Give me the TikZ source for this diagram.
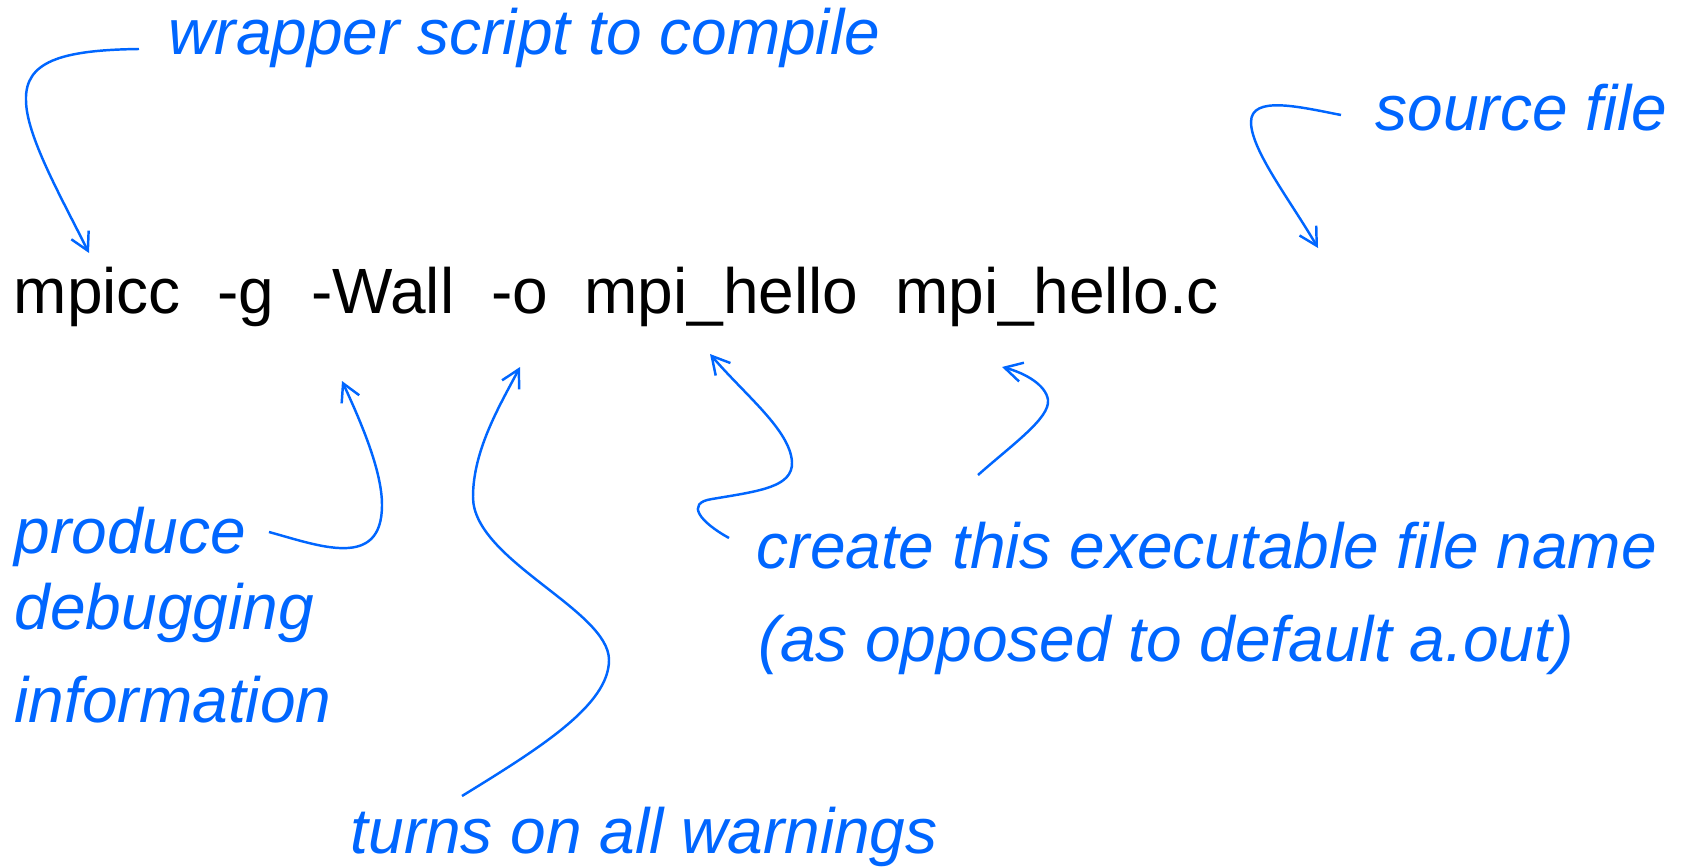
\documentclass[tikz,border=0pt]{standalone}
\usepackage{fontspec}
\setmainfont{Liberation Sans}
\usetikzlibrary{arrows.meta,positioning}
\definecolor{noteblue}{RGB}{0,102,255}

\begin{document}
\begin{tikzpicture}[x=0.01cm, y=-0.01cm, node distance=0.352cm,
    cmd/.style={inner sep=0, font=\fontsize{18.2}{22}\selectfont},
    note/.style={inner sep=0, anchor=base west, text=noteblue, font=\itshape\fontsize{18.2}{22}\selectfont},
    pointer/.style={draw=noteblue, line width=0.7pt, -{Straight Barb[length=5pt,width=5.5pt]}}]
  \useasboundingbox (0,0) rectangle (1682,867);

  % command line, one node per word
  \node[cmd, anchor=base west] (mpicc) at (13,313) {mpicc};
  \node[cmd, base right=of mpicc] (dbg) {-g};
  \node[cmd, base right=of dbg] (wall) {-Wall};
  \node[cmd, base right=of wall] (outopt) {-o};
  \node[cmd, base right=of outopt] (exe) {mpi\_hello};
  \node[cmd, base right=of exe] (src) {mpi\_hello.c};

  % notes
  \node[note] (wrapper) at (168,55) {wrapper script to compile};
  \node[note] (source) at (1375,131) {source file};
  \node[note] (produce) at (14,553) {produce};
  \node[note] (debugging) at (14,629) {debugging};
  \node[note] (information) at (14,722) {information};
  \node[note] (warnings) at (350,853) {turns on all warnings};
  \node[note] (create) at (756,568) {create this executable file name};
  \node[note] (opposed) at (758,661) {(as opposed to default a.out)};

  % ends of the pointers
  \coordinate (wrapperFrom) at (139,49);
  \coordinate (mpiccTo) at (89,253);
  \coordinate (sourceFrom) at (1341,115);
  \coordinate (srcTo) at (1318,248);
  \coordinate (produceFrom) at (269,532);
  \coordinate (dbgTo) at (342,381);
  \coordinate (warningsFrom) at (462,796);
  \coordinate (wallTo) at (520,367);
  \coordinate (createFrom) at (729,538);
  \coordinate (exeTo) at (710,354);
  \coordinate (opposedFrom) at (978,475);
  \coordinate (outTo) at (1002,367);

  \draw[pointer] (wrapperFrom) .. controls (60,50) and (25,62) .. (26,100)
    .. controls (26,135) and (60,195) .. (mpiccTo);
  \draw[pointer] (sourceFrom) .. controls (1300,107) and (1251,95) .. (1251,122)
    .. controls (1251,150) and (1290,200) .. (srcTo);
  \draw[pointer] (produceFrom) .. controls (320,546) and (382,570) .. (382,505)
    .. controls (382,470) and (360,420) .. (dbgTo);
  \draw[pointer] (warningsFrom) .. controls (540,748) and (609,705) .. (609,660)
    .. controls (609,610) and (473,560) .. (473,497)
    .. controls (473,450) and (500,405) .. (wallTo);
  \draw[pointer] (createFrom) .. controls (700,522) and (685,503) .. (712,499)
    .. controls (760,491) and (793,487) .. (792,462)
    .. controls (790,430) and (745,395) .. (exeTo);
  \draw[pointer] (opposedFrom) .. controls (1013,444) and (1050,418) .. (1048,400)
    .. controls (1046,385) and (1025,373) .. (outTo);
\end{tikzpicture}
\end{document}
